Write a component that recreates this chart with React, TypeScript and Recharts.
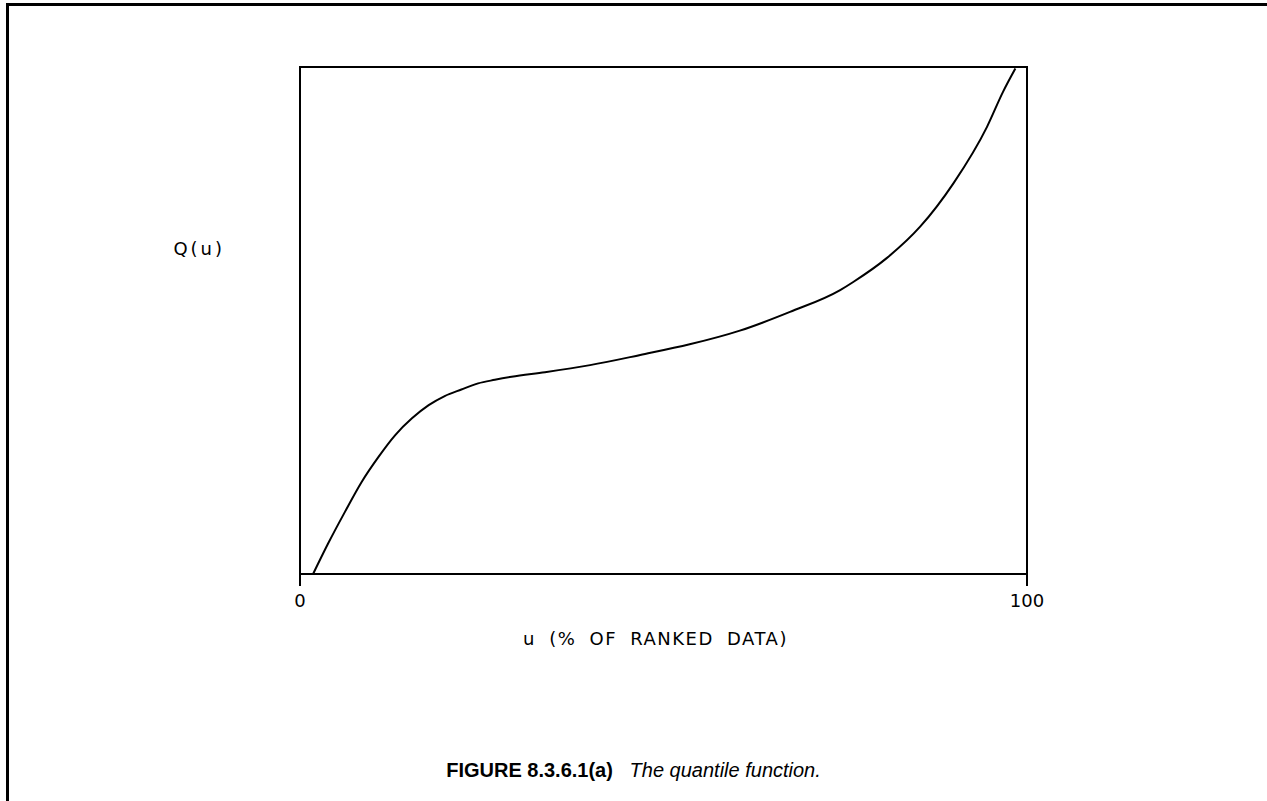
import React from "react";
import { LineChart, Line, XAxis, YAxis, ReferenceArea } from "recharts";

const uValues = [1.8, 3.9, 6.2, 8.5, 10.8, 13.1, 15.4, 17.7, 19.9, 22.2, 24.5, 26.8, 29.1, 33.7, 39.9, 46.8, 53.6, 60.5, 67.4, 74.3, 76.1, 80.7, 85.3, 89.9, 94.5, 96.7, 98.4];
const qValues = [0, 6.1, 12.3, 18.2, 23.1, 27.4, 30.7, 33.3, 35.1, 36.4, 37.6, 38.3, 38.9, 39.8, 41.2, 43.2, 45.3, 48.0, 51.7, 56.0, 57.6, 62.3, 68.5, 77.1, 88.2, 95.1, 99.7];
const xTicks = [0, 100];
const xTickLabels = ["0", "100"];
const xAxisTitle = "u (% OF RANKED DATA)";
const yAxisTitle = "Q(u)";
const captionBold = "FIGURE 8.3.6.1(a)";
const captionItalic = "The quantile function.";

const data = uValues.map((u, i) => ({ u, q: qValues[i] }));

const plotFont = "'DejaVu Sans', Verdana, sans-serif";
const TICK_SIZE = 12;
const TICK_MARGIN = 8;

function AxisTick(props: any) {
  const { x, y, payload } = props;
  const idx = xTicks.indexOf(payload.value);
  const text = idx >= 0 ? xTickLabels[idx] : String(payload.value);
  return (
    <text
      x={x}
      y={y}
      dy="0.71em"
      textAnchor="middle"
      fill="#000"
      fontSize={18}
      fontFamily={plotFont}
    >
      {text}
    </text>
  );
}

export default function App() {
  return (
    <div style={{ position: "absolute", left: 0, top: 0, width: 1267, height: 801, background: "#fff" }}>
      <div
        style={{
          position: "absolute",
          left: 6,
          top: 3,
          width: 1261,
          height: 798,
          borderLeft: "3px solid #000",
          borderTop: "3px solid #000",
          boxSizing: "border-box",
        }}
      />
      <LineChart
        width={1267}
        height={801}
        data={data}
        margin={{ top: 67, right: 240, left: 300, bottom: 187 }}
        style={{ position: "absolute", left: 0, top: 0 }}
      >
        <XAxis
          type="number"
          dataKey="u"
          domain={[0, 100]}
          ticks={xTicks}
          tickSize={TICK_SIZE}
          tickMargin={TICK_MARGIN}
          height={40}
          axisLine={{ stroke: "#000", strokeWidth: 2 }}
          tickLine={{ stroke: "#000", strokeWidth: 2 }}
          tick={<AxisTick />}
          interval={0}
          label={{
            value: xAxisTitle,
            position: "bottom",
            offset: 18,
            dx: -8,
            fill: "#000",
            fontSize: 18,
            fontFamily: plotFont,
            style: { letterSpacing: "1.5px", wordSpacing: "6px" },
          }}
        />
        <YAxis
          type="number"
          domain={[0, 100]}
          width={0}
          axisLine={false}
          tickLine={false}
          tick={false}
        />
        <ReferenceArea
          x1={0}
          x2={100}
          y1={0}
          y2={100}
          fill="none"
          fillOpacity={0}
          stroke="#000"
          strokeWidth={2}
          ifOverflow="visible"
          label={{
            value: yAxisTitle,
            position: "left",
            offset: 75,
            dy: -72,
            fill: "#000",
            fontSize: 18,
            fontFamily: plotFont,
            style: { letterSpacing: "3px" },
          }}
        />
        <Line
          type="monotone"
          dataKey="q"
          stroke="#000"
          strokeWidth={2}
          dot={false}
          isAnimationActive={false}
        />
      </LineChart>
      <div
        style={{
          position: "absolute",
          left: 0,
          width: 1267,
          top: 758,
          textAlign: "center",
          fontFamily: "'Liberation Sans', Arial, sans-serif",
          fontSize: 20,
          color: "#000",
          lineHeight: "24px",
          whiteSpace: "pre",
        }}
      >
        <span style={{ fontWeight: "bold" }}>{captionBold}</span>
        <span>{"   "}</span>
        <span style={{ fontStyle: "italic" }}>{captionItalic}</span>
      </div>
    </div>
  );
}
